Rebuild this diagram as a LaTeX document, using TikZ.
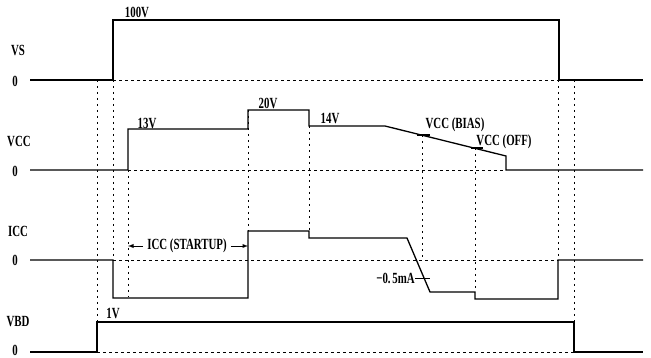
\documentclass[tikz,border=0pt]{standalone}
\usepackage{fontspec}
\setmainfont{Liberation Serif}
\usetikzlibrary{arrows, positioning}
\newcommand\slim[1]{\scalebox{0.7}[1]{#1}}
\tikzstyle{wave} = [line width=1.3pt]
\tikzstyle{guide} = [line width=0.6pt, dash pattern=on 2.5pt off 3.5pt]
\tikzstyle{sig} = [font=\fontsize{15.5}{15.5}\selectfont\bfseries, inner sep=0pt]
\tikzstyle{arrow} = [line width=0.9pt,->,>=latex]

\begin{document}
\begin{tikzpicture}[x=1pt, y=-1pt]
\useasboundingbox (0,0) rectangle (651,358);

% Signal names and zero levels
\node (vsName) [sig] at (18,50) {\slim{VS}};
\node (vsZero) [sig] at (15,81) {\slim{0}};
\node (vccName) [sig] at (19,141) {\slim{VCC}};
\node (vccZero) [sig] at (15,171) {\slim{0}};
\node (iccName) [sig] at (18,231) {\slim{ICC}};
\node (iccZero) [sig] at (15,260) {\slim{0}};
\node (vbdName) [sig] at (18,322) {\slim{VBD}};
\node (vbdZero) [sig] at (15,350) {\slim{0}};

% Vertical time markers
\draw [guide] (97,80) -- (97,322);
\draw [guide] (113,80) -- (113,260);
\draw [guide] (128,170) -- (128,297);
\draw [guide] (248,110) -- (248,231);
\draw [guide] (309,126) -- (309,231);
\draw [guide] (422,135) -- (422,260);
\draw [guide] (475,148) -- (475,292);
\draw [guide] (558,80) -- (558,260);
\draw [guide] (574,80) -- (574,322);

% Dashed zero levels
\draw [guide] (113,80) -- (559,80);
\draw [guide] (128,170) -- (506,170);
\draw [guide] (113,260) -- (558,260);
\draw [guide] (97,352) -- (574,352);

% VS
\draw [wave] (30,80) -- (113,80) -- (113,20) -- (559,20) -- (559,80) -- (643,80);
\node (vsTop) [sig] at (137,12) {\slim{100V}};

% VCC
\draw [wave] (30,170) -- (128,170) -- (128,129) -- (248,129) -- (248,110) -- (309,110)
  -- (309,126) -- (385,126) -- (506,156) -- (506,170) -- (643,170);
\draw [wave] (417,135) -- (430,135);
\draw [wave] (471,148) -- (483,148);
\node (vccStart) [sig] at (147,123) {\slim{13V}};
\node (vccHigh) [sig] at (268,103) {\slim{20V}};
\node (vccRun) [sig] at (330,119) {\slim{14V}};
\node (vccBias) [sig] at (455,125) {\slim{VCC (BIAS)}};
\node (vccOff) [sig] at (504,142) {\slim{VCC (OFF)}};

% ICC
\draw [wave] (30,260) -- (113,260) -- (113,298) -- (248,298) -- (248,231) -- (309,231)
  -- (309,238) -- (407,238) -- (430,292) -- (475,292) -- (475,299) -- (558,299)
  -- (558,260) -- (643,260);
\node (iccStartup) [sig] at (187,246) {\slim{ICC (STARTUP)}};
\coordinate (startupL) at (128,246);
\coordinate (startupR) at (248,246);
\draw [arrow] (iccStartup.west) ++(-4,0) -- (startupL);
\draw [arrow] (iccStartup.east) ++(4,0) -- (startupR);
\node (iccBias) [sig, anchor=east] at (415,278) {\slim{−0.\,5mA}};
\draw [line width=0.8pt] (iccBias.east) -- ++(15,0);

% VBD
\draw [wave] (30,352) -- (97,352) -- (97,322) -- (574,322) -- (574,352) -- (643,352);
\node (vbdTop) [sig] at (113,314) {\slim{1V}};

\end{tikzpicture}
\end{document}
